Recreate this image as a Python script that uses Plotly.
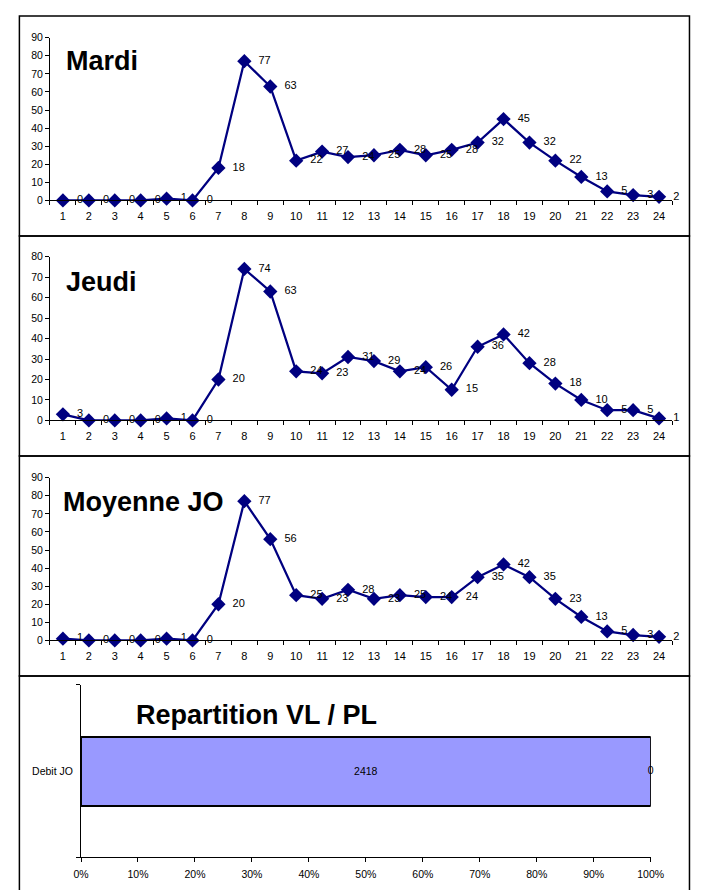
import plotly.graph_objects as go

# ---------------- data ----------------
hours = [str(h) for h in range(1, 25)]
mardi = [0, 0, 0, 0, 1, 0, 18, 77, 63, 22, 27, 24, 25, 28, 25, 28, 32, 45, 32, 22, 13, 5, 3, 2]
jeudi = [3, 0, 0, 0, 1, 0, 20, 74, 63, 24, 23, 31, 29, 24, 26, 15, 36, 42, 28, 18, 10, 5, 5, 1]
moyenne = [1, 0, 0, 0, 1, 0, 20, 77, 56, 25, 23, 28, 23, 25, 24, 24, 35, 42, 35, 23, 13, 5, 3, 2]
panel_titles = ["Mardi", "Jeudi", "Moyenne JO"]
y_max = [90, 80, 90]

bar_category = ["Debit JO"]
debit_vl = [2418]
debit_pl = [0]
bar_title = "Repartition VL / PL"
pct_ticks = list(range(0, 101, 10))

# ---------------- helpers ----------------
# the page body adds an 8px offset; window pixel positions are converted below.
PAGE_MARGIN = 8
W, H = 710, 890
FONT = "Liberation Sans, Arial, sans-serif"
NAVY = "#000080"


def fx(px):
    return (px - PAGE_MARGIN) / W


def fy(py):
    return 1 - (py - PAGE_MARGIN) / H


fig = go.Figure()

# panel geometry (window pixels): plot-area left/right, y of top value, y of zero
panels = [
    dict(x0=43, x1=684, ytop=32, ybot=197, tx=57, ty=56),
    dict(x0=43, x1=684, ytop=254, ybot=420, tx=57, ty=280),
    dict(x0=43, x1=684, ytop=478, ybot=643, tx=54, ty=503),
]
series = [mardi, jeudi, moyenne]

for i, (vals, geo) in enumerate(zip(series, panels)):
    n = i + 1
    xa = "x" if n == 1 else f"x{n}"
    ya = "y" if n == 1 else f"y{n}"
    fig.add_trace(go.Scatter(
        x=hours, y=vals, mode="lines+markers",
        line=dict(color=NAVY, width=2.25),
        marker=dict(symbol="diamond", size=11, color=NAVY),
        xaxis=xa, yaxis=ya, showlegend=False, hoverinfo="skip", cliponaxis=False,
    ))
    fig.add_trace(go.Scatter(
        x=hours, y=vals, mode="markers+text",
        text=[str(v) for v in vals], textposition="middle right",
        textfont=dict(family=FONT, size=11, color="#000000"),
        marker=dict(size=21, color="rgba(0,0,0,0)"),
        xaxis=xa, yaxis=ya, showlegend=False, hoverinfo="skip", cliponaxis=False,
    ))
    axis_common = dict(showgrid=False, zeroline=False, showline=True,
                       linecolor="#000000", linewidth=1, ticks="outside",
                       ticklen=4, tickcolor="#000000", tickwidth=1)
    fig.update_layout(**{
        ("xaxis" if n == 1 else f"xaxis{n}"): dict(
            type="category", tickson="boundaries", range=[-0.5, len(hours) - 0.5],
            domain=[fx(geo["x0"]), fx(geo["x1"])], anchor=ya,
            ticklabelstandoff=5,
            tickfont=dict(family=FONT, size=11, color="#000000"),
            **axis_common),
        ("yaxis" if n == 1 else f"yaxis{n}"): dict(
            range=[0, y_max[i]], dtick=10,
            domain=[fy(geo["ybot"]), fy(geo["ytop"])], anchor=xa,
            tickfont=dict(family=FONT, size=10.5, color="#000000"),
            **axis_common),
    })
    fig.add_annotation(
        text=f"<b>{panel_titles[i]}</b>", xref="paper", yref="paper",
        x=fx(geo["tx"]), y=fy(geo["ty"]), xanchor="left", yanchor="middle",
        showarrow=False, font=dict(family=FONT, size=27, color="#000000"),
    )

# ---------------- bar panel ----------------
total = [a + b for a, b in zip(debit_vl, debit_pl)]
fig.add_trace(go.Bar(
    y=bar_category, x=debit_vl, orientation="h", width=0.4,
    marker=dict(color="#9999FF", line=dict(color="#000000", width=2)),
    text=[str(v) for v in debit_vl], textposition="inside",
    insidetextanchor="middle", textangle=0,
    textfont=dict(family=FONT, size=10.5, color="#000000"),
    xaxis="x4", yaxis="y4", showlegend=False, hoverinfo="skip",
))
fig.add_trace(go.Bar(
    y=bar_category, x=debit_pl, orientation="h", width=0.4,
    marker=dict(color="#993366", line=dict(color="#000000", width=2)),
    xaxis="x4", yaxis="y4", showlegend=False, hoverinfo="skip",
))
pl_label_pos = [(a + b / 2) / t * 100 for a, b, t in zip(debit_vl, debit_pl, total)]
fig.add_trace(go.Scatter(
    y=bar_category, x=pl_label_pos, mode="text",
    text=[str(v) for v in debit_pl], textposition="middle center",
    textfont=dict(family=FONT, size=10.5, color="#000000"),
    xaxis="x4", yaxis="y4", showlegend=False, hoverinfo="skip", cliponaxis=False,
))
fig.update_layout(
    barmode="stack", barnorm="percent",
    xaxis4=dict(range=[0, 100], tickvals=pct_ticks,
                ticktext=[f"{v}%" for v in pct_ticks],
                domain=[fx(75), fx(662)], anchor="y4", ticklabelstandoff=3,
                showgrid=False, zeroline=False, showline=True, linecolor="#000000",
                linewidth=1, ticks="outside", ticklen=4, tickcolor="#000000",
                tickfont=dict(family=FONT, size=10.5, color="#000000")),
    yaxis4=dict(type="category", tickson="boundaries", range=[-0.5, 0.5],
                domain=[fy(863), fy(688)], anchor="x4", ticklabelstandoff=5,
                showgrid=False, zeroline=False, showline=True, linecolor="#000000",
                linewidth=1, ticks="outside", ticklen=4, tickcolor="#000000",
                tickfont=dict(family=FONT, size=10.5, color="#000000")),
)
fig.add_annotation(
    text=f"<b>{bar_title}</b>", xref="paper", yref="paper",
    x=fx(130), y=fy(719), xanchor="left", yanchor="middle",
    showarrow=False, font=dict(family=FONT, size=27, color="#000000"),
)

# ---------------- panel borders ----------------
borders = [(10, 233), (233, 456), (456, 679), (679, 900)]
for top, bot in borders:
    fig.add_shape(type="rect", xref="paper", yref="paper",
                  x0=fx(11.5), x1=fx(702), y0=fy(bot), y1=fy(top),
                  line=dict(color="#000000", width=1.5), fillcolor="rgba(0,0,0,0)")

fig.update_layout(
    width=W, height=H, margin=dict(l=0, r=0, t=0, b=0),
    paper_bgcolor="#FFFFFF", plot_bgcolor="rgba(0,0,0,0)",
    font=dict(family=FONT, color="#000000"),
)

fig.write_html("out.html")
